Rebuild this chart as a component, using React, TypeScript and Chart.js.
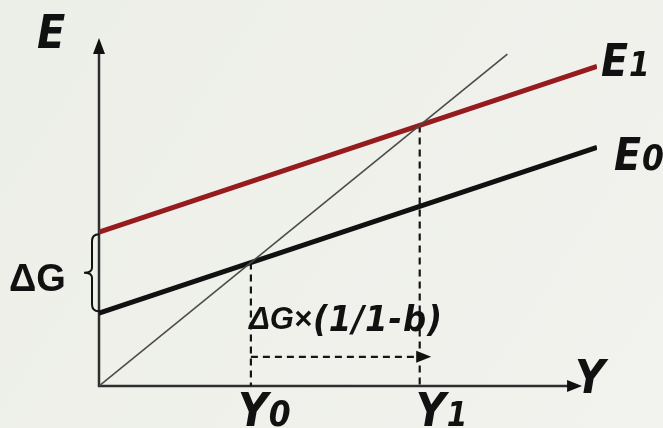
import { useEffect, useRef } from "react";
import { Chart, registerables } from "chart.js";

Chart.register(...registerables);

// Keynesian cross: aggregate expenditure before (E0) and after (E1) a rise in G.
const incomeEnds = [0, 10];
const spendingE0 = [1.8, 5.9];
const spendingE1 = [3.8, 7.9];
const diagonalEnds = [0, 8.2];
const equilibriumIncome = [3.05, 6.44]; // Y0, Y1
const shiftArrow = { level: 0.72, end: 6.67 };
const axisEnds = { x: 9.7, y: 8.6 };

const curveNames = ["E", "E", "E"];
const curveSubs = ["", "1", "0"];
const incomeNames = ["Y", "Y", "Y"];
const incomeSubs = ["", "0", "1"];
const shiftLabel = ["\u0394G\u00d7", "(1/1-b)"];
const gapLabel = "\u0394G";

const NARROW = '"Liberation Sans Narrow", "DejaVu Sans Condensed", "Liberation Sans", sans-serif';
const WIDE = '"Liberation Sans", "DejaVu Sans", sans-serif';
const INK = "#111111";
const AXIS = "#2e2e2e";
const RED = "#961b1f";

function arrowHead(ctx: CanvasRenderingContext2D, tx: number, ty: number, dx: number, dy: number, len: number, half: number) {
  const bx = tx - dx * len;
  const by = ty - dy * len;
  ctx.beginPath();
  ctx.moveTo(tx, ty);
  ctx.lineTo(bx - dy * half, by + dx * half);
  ctx.lineTo(bx + dy * half, by - dx * half);
  ctx.closePath();
  ctx.fill();
}

const diagramPlugin = {
  id: "diagram",
  beforeDraw(chart: any) {
    const { ctx, width, height } = chart;
    ctx.save();
    const g = ctx.createLinearGradient(0, 0, width, height);
    g.addColorStop(0, "#ecefe7");
    g.addColorStop(1, "#f2f2ee");
    ctx.fillStyle = g;
    ctx.fillRect(0, 0, width, height);
    ctx.restore();
  },
  beforeDatasetsDraw(chart: any) {
    const { ctx } = chart;
    const xs = chart.scales.x;
    const ys = chart.scales.y;
    const x0 = xs.getPixelForValue(0);
    const y0 = ys.getPixelForValue(0);
    ctx.save();
    // axes
    ctx.strokeStyle = AXIS;
    ctx.fillStyle = AXIS;
    ctx.lineWidth = 2.5;
    const yTop = ys.getPixelForValue(axisEnds.y);
    const xEnd = xs.getPixelForValue(axisEnds.x);
    ctx.beginPath();
    ctx.moveTo(x0, y0 + 1);
    ctx.lineTo(x0, yTop + 12);
    ctx.moveTo(x0 - 1, y0);
    ctx.lineTo(xEnd - 12, y0);
    ctx.stroke();
    ctx.fillStyle = INK;
    arrowHead(ctx, x0, yTop, 0, -1, 16, 6);
    arrowHead(ctx, xEnd, y0, 1, 0, 15, 6);

    // dashed guides down from each equilibrium
    ctx.strokeStyle = "#151515";
    ctx.lineWidth = 2.2;
    ctx.setLineDash([7, 5]);
    ctx.beginPath();
    equilibriumIncome.forEach((yv) => {
      const px = xs.getPixelForValue(yv);
      ctx.moveTo(px, ys.getPixelForValue(yv));
      ctx.lineTo(px, y0);
    });
    const ay = ys.getPixelForValue(shiftArrow.level);
    const ax0 = xs.getPixelForValue(equilibriumIncome[0]);
    const ax1 = xs.getPixelForValue(shiftArrow.end);
    ctx.moveTo(ax0, ay);
    ctx.lineTo(ax1 - 12, ay);
    ctx.stroke();
    ctx.setLineDash([]);
    ctx.fillStyle = INK;
    arrowHead(ctx, ax1, ay, 1, 0, 15, 6);
    ctx.restore();
  },
  afterDatasetsDraw(chart: any) {
    const { ctx } = chart;
    const xs = chart.scales.x;
    const ys = chart.scales.y;
    const x0 = xs.getPixelForValue(0);
    const y0 = ys.getPixelForValue(0);
    ctx.save();
    ctx.fillStyle = INK;
    ctx.textBaseline = "alphabetic";
    ctx.textAlign = "left";

    const label = (main: string, sub: string, x: number, y: number, mainSize: number, subSize: number) => {
      ctx.font = `italic bold ${mainSize}px ${NARROW}`;
      ctx.fillText(main, x, y);
      const w = ctx.measureText(main).width;
      if (sub) {
        ctx.font = `italic bold ${subSize}px ${NARROW}`;
        ctx.fillText(sub, x + w + 1, y);
      }
    };

    // vertical axis name and curve names
    label(curveNames[0], curveSubs[0], 37, 48, 46, 34);
    const xr = xs.getPixelForValue(incomeEnds[1]);
    label(curveNames[1], curveSubs[1], xr + 4, ys.getPixelForValue(spendingE1[1]) + 10, 44, 33);
    label(curveNames[2], curveSubs[2], xr + 17, ys.getPixelForValue(spendingE0[1]) + 23, 44, 35);

    // horizontal axis name and income levels
    label(incomeNames[0], incomeSubs[0], xs.getPixelForValue(axisEnds.x) - 7, y0 + 7, 46, 36);
    label(incomeNames[1], incomeSubs[1], xs.getPixelForValue(equilibriumIncome[0]) - 13, y0 + 40, 46, 35);
    label(incomeNames[2], incomeSubs[2], xs.getPixelForValue(equilibriumIncome[1]) - 4, y0 + 40, 46, 33);

    // multiplier label
    const lx = xs.getPixelForValue(equilibriumIncome[0]) - 2;
    ctx.font = `italic bold 31px ${WIDE}`;
    ctx.fillText(shiftLabel[0], lx, 329);
    const w0 = ctx.measureText(shiftLabel[0]).width;
    ctx.font = `italic bold 36px ${NARROW}`;
    (ctx as any).letterSpacing = "1px";
    ctx.fillText(shiftLabel[1], lx + w0 + 1, 331);
    (ctx as any).letterSpacing = "0px";

    // brace marking the vertical shift
    const top = ys.getPixelForValue(spendingE1[0]);
    const bot = ys.getPixelForValue(spendingE0[0]);
    const mid = (top + bot) / 2;
    const bx = x0 - 7;
    ctx.strokeStyle = INK;
    ctx.lineWidth = 2;
    ctx.beginPath();
    ctx.moveTo(x0, top + 2);
    ctx.quadraticCurveTo(bx, top + 2, bx, top + 9);
    ctx.lineTo(bx, mid - 5);
    ctx.quadraticCurveTo(bx, mid, bx - 8, mid);
    ctx.quadraticCurveTo(bx, mid, bx, mid + 5);
    ctx.lineTo(bx, bot - 9);
    ctx.quadraticCurveTo(bx, bot - 2, x0, bot - 2);
    ctx.stroke();

    ctx.font = `bold 38px ${WIDE}`;
    ctx.fillText(gapLabel, 9, mid + 18);
    ctx.restore();
  },
};

export default function App() {
  const canvasRef = useRef<HTMLCanvasElement | null>(null);

  useEffect(() => {
    const canvas = canvasRef.current;
    if (!canvas) return;
    const toPoints = (xs: number[], ys: number[]) => xs.map((x, i) => ({ x, y: ys[i] }));
    const chart = new Chart(canvas, {
      type: "scatter",
      data: {
        datasets: [
          {
            label: "45°",
            data: toPoints(diagonalEnds, diagonalEnds),
            showLine: true,
            borderColor: "#4a4a4a",
            borderWidth: 1.6,
            pointRadius: 0,
          },
          {
            label: "E0",
            data: toPoints(incomeEnds, spendingE0),
            showLine: true,
            borderColor: INK,
            borderWidth: 5,
            pointRadius: 0,
          },
          {
            label: "E1",
            data: toPoints(incomeEnds, spendingE1),
            showLine: true,
            borderColor: RED,
            borderWidth: 5,
            pointRadius: 0,
          },
        ],
      },
      options: {
        responsive: false,
        animation: false,
        events: [],
        layout: { padding: { left: 99, right: 66, top: 38, bottom: 42 } },
        plugins: { legend: { display: false }, tooltip: { enabled: false } },
        scales: {
          x: { type: "linear", min: 0, max: 10, display: false },
          y: { type: "linear", min: 0, max: axisEnds.y, display: false },
        },
        elements: { line: { borderCapStyle: "butt" } },
      },
      plugins: [diagramPlugin],
    });
    return () => chart.destroy();
  }, []);

  return (
    <div style={{ position: "fixed", left: 0, top: 0, width: 663, height: 428, overflow: "hidden" }}>
      <canvas ref={canvasRef} width={663} height={428} style={{ display: "block" }} />
    </div>
  );
}
